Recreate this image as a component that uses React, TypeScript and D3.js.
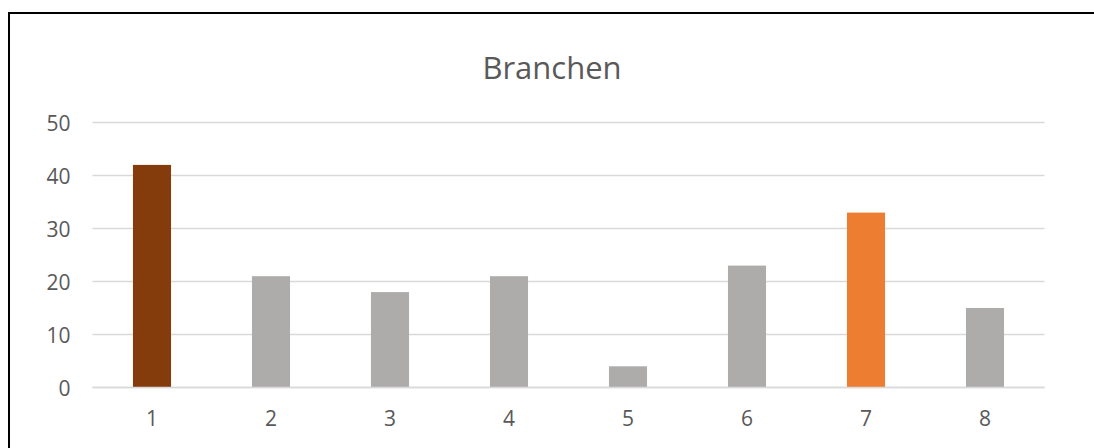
import React from 'react';
import * as d3 from 'd3';

const categories = ['1', '2', '3', '4', '5', '6', '7', '8'];
const values = [42, 21, 18, 21, 4, 23, 33, 15];
const barColors = ['#843C0C', '#AEABAB', '#AEABAB', '#AEABAB', '#AEABAB', '#AEABAB', '#ED7D31', '#AEABAB'];
const yTicks = [0, 10, 20, 30, 40, 50];
const title = 'Branchen';

const W = 1094;
const H = 448;
const FONT = "'Open Sans', 'Noto Sans', sans-serif";

export default function App() {
  const x = d3.scaleBand<string>().domain(categories).range([92.5, 1044.5]).paddingInner(0.68).paddingOuter(0.34);
  const y = d3.scaleLinear().domain([0, 50]).range([387.5, 122.5]);

  return (
    <svg
      width={W}
      height={H}
      style={{ position: 'absolute', left: 0, top: 0, display: 'block' }}
      fontFamily={FONT}
    >
      <rect x={0} y={0} width={W} height={H} fill='#fff' />
      {/* chart frame, cut off at the right and bottom */}
      <rect x={9} y={13} width={W + 20} height={H + 20} fill='none' stroke='#000' strokeWidth={2} />

      <text x={552} y={79} textAnchor='middle' fontSize={31} fill='#595959'>
        {title}
      </text>

      {/* gridlines + y labels */}
      {yTicks.map((t) => (
        <g key={t}>
          <line x1={92.5} x2={1044.5} y1={y(t)} y2={y(t)} stroke='#D9D9D9' strokeWidth={1.5} />
          <text x={70.5} y={y(t) + 8} textAnchor='end' fontSize={21} fill='#595959'>
            {t}
          </text>
        </g>
      ))}

      {/* bars */}
      {categories.map((c, i) => (
        <rect
          key={c}
          x={x(c)}
          y={y(values[i])}
          width={x.bandwidth()}
          height={y(0) - y(values[i])}
          fill={barColors[i]}
        />
      ))}

      {/* baseline on top of bars */}
      <line x1={92.5} x2={1044.5} y1={y(0)} y2={y(0)} stroke='#D9D9D9' strokeWidth={1.5} />

      {/* x labels */}
      {categories.map((c) => (
        <text
          key={c}
          x={(x(c) ?? 0) + x.bandwidth() / 2}
          y={425.5}
          textAnchor='middle'
          fontSize={21}
          fill='#595959'
        >
          {c}
        </text>
      ))}
    </svg>
  );
}
